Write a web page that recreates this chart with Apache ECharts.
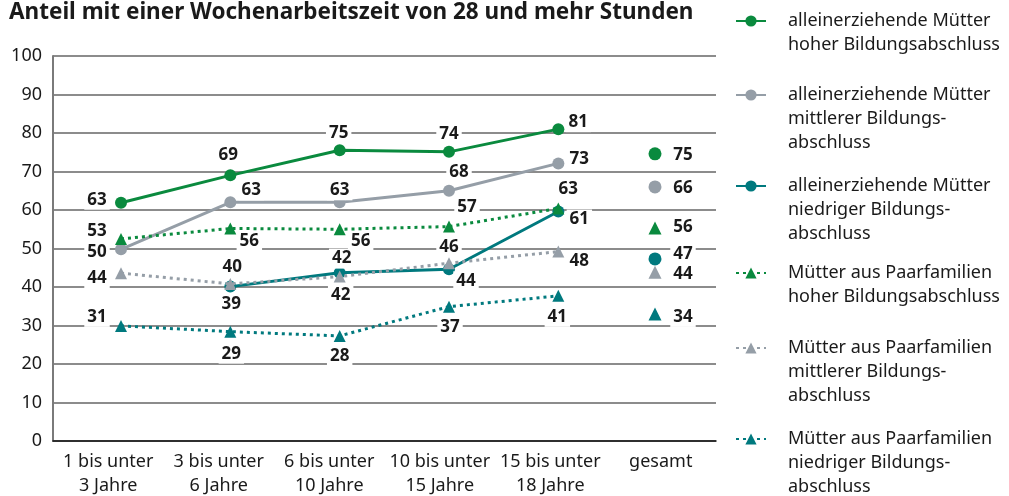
<!DOCTYPE html>
<html>
<head>
<meta charset="utf-8">
<script src="https://cdn.jsdelivr.net/npm/echarts@6/dist/echarts.min.js"></script>
<style>
  html, body { margin: 0; padding: 0; background: #fff; }
  #chart { width: 1009px; height: 496px; }
</style>
</head>
<body>
<div id="chart"></div>
<script>
const titleText = 'Anteil mit einer Wochenarbeitszeit von 28 und mehr Stunden';
const categories = ['1 bis unter\n3 Jahre', '3 bis unter\n6 Jahre', '6 bis unter\n10 Jahre', '10 bis unter\n15 Jahre', '15 bis unter\n18 Jahre', 'gesamt'];
const seriesNames = [
  'alleinerziehende Mütter\nhoher Bildungsabschluss',
  'alleinerziehende Mütter\nmittlerer Bildungs-\nabschluss',
  'alleinerziehende Mütter\nniedriger Bildungs-\nabschluss',
  'Mütter aus Paarfamilien\nhoher Bildungsabschluss',
  'Mütter aus Paarfamilien\nmittlerer Bildungs-\nabschluss',
  'Mütter aus Paarfamilien\nniedriger Bildungs-\nabschluss'
];

// where the marks sit in the picture (age groups)
const singleHigh = [61.9, 69.0, 75.5, 75.1, 81.0];
const singleMid = [49.8, 62.0, 62.0, 65.0, 72.1];
const singleLow = [null, 40.1, 43.7, 44.6, 59.6];
const pairHigh = [52.5, 55.2, 55.0, 55.7, 60.4];
const pairMid = [43.6, 40.8, 42.7, 46.2, 49.2];
const pairLow = [29.9, 28.4, 27.3, 34.9, 37.7];
// the printed numbers
const singleHighText = [63, 69, 75, 74, 81];
const singleMidText = [50, 63, 63, 68, 73];
const singleLowText = [null, 39, 42, 44, 61];
const pairHighText = [53, 56, 56, 57, 63];
const pairMidText = [44, 40, 42, 46, 48];
const pairLowText = [31, 29, 28, 37, 41];
// gesamt, same series order as above
const totalValues = [74.6, 66.0, 47.3, 55.3, 43.8, 33.0];
const totalText = [75, 66, 47, 56, 44, 34];

const green = '#0a8a3e';
const grey = '#959ea7';
const teal = '#00797e';
const font = 'Noto Sans';
const totalPos = 4.884; // gesamt markers sit a bit left of the band centre

// label offsets (px) from each marker
const offsets = [
  [[-24, -3], [-2, -20], [-1, -17], [0, -18], [20, -7]],
  [[-24, 3], [21, -12], [0, -12], [10, -19], [21, -4]],
  [null, [1, 18], [1, 22], [17, 12], [21, 8]],
  [[-24, -8], [19, 13], [21, 12], [18, -19], [10, -19]],
  [[-24, 5], [2, -17], [2, -18], [0, -16], [21, 10]],
  [[-24, -9], [1, 22], [0, 20], [1, 21], [-1, 21]]
];
const totalOffsets = [[28, 1], [28, 1], [28, -5], [28, -1], [28, 2], [28, 3]];
const legendIconY = [21, 95, 186, 273, 348, 439];

const labelStyle = {
  show: true,
  position: 'inside',
  align: 'center',
  verticalAlign: 'middle',
  color: '#1a1a1a',
  fontFamily: font,
  fontSize: 17,
  fontWeight: 'bold',
  backgroundColor: '#fff',
  padding: [0, 3],
  lineHeight: 20
};

const groups = [
  { values: singleHigh, text: singleHighText, color: green, symbol: 'circle', dotted: false },
  { values: singleMid, text: singleMidText, color: grey, symbol: 'circle', dotted: false },
  { values: singleLow, text: singleLowText, color: teal, symbol: 'circle', dotted: false },
  { values: pairHigh, text: pairHighText, color: green, symbol: 'triangle', dotted: true },
  { values: pairMid, text: pairMidText, color: grey, symbol: 'triangle', dotted: true },
  { values: pairLow, text: pairLowText, color: teal, symbol: 'triangle', dotted: true }
];

const series = [];
groups.forEach((g, i) => {
  const data = [];
  g.values.forEach((v, j) => {
    if (v == null) return;
    data.push({
      value: [j, v],
      label: Object.assign({}, labelStyle, { offset: offsets[i][j], formatter: String(g.text[j]) })
    });
  });
  series.push({
    name: seriesNames[i],
    type: 'line',
    xAxisIndex: 1,
    data: data,
    symbol: g.symbol,
    symbolSize: 12,
    showAllSymbol: true,
    color: g.color,
    itemStyle: { color: g.color, opacity: 1 },
    lineStyle: { color: g.color, width: 3, type: g.dotted ? [3, 4] : 'solid' },
    emphasis: { disabled: true },
    z: g.dotted ? 3 : 2
  });
});

groups.forEach((g, i) => {
  series.push({
    name: 'gesamt ' + i,
    type: 'scatter',
    xAxisIndex: 1,
    symbol: g.symbol,
    symbolSize: 13,
    itemStyle: { color: g.color, opacity: 1 },
    data: [{
      value: [totalPos, totalValues[i]],
      label: Object.assign({}, labelStyle, { offset: totalOffsets[i], formatter: String(totalText[i]) })
    }],
    emphasis: { disabled: true },
    z: 4
  });
});

// one legend per entry so the marker lines up with the first text line
const legends = seriesNames.map((name, i) => {
  const lines = name.split('\n').length;
  return {
    data: [name],
    orient: 'vertical',
    left: 735,
    top: legendIconY[i] - 12 * (2 * lines - 1),
    padding: 0,
    itemWidth: 30,
    itemHeight: 14,
    selectedMode: false,
    formatter: (n) => '\n'.repeat(lines - 1) + n,
    textStyle: {
      fontFamily: font,
      fontSize: 18,
      lineHeight: 24,
      color: '#1a1a1a',
      padding: [0, 0, 0, 17]
    }
  };
});

const chart = echarts.init(document.getElementById('chart'));
chart.setOption({
  animation: false,
  backgroundColor: '#fff',
  title: {
    text: titleText,
    left: 9,
    top: 1,
    padding: [0, 0, 0, 0],
    textStyle: { fontFamily: font, fontSize: 22.5, fontWeight: 'bold', color: '#1a1a1a', lineHeight: 24 }
  },
  legend: legends,
  grid: { left: 53, right: 293, top: 56, bottom: 55, outerBoundsMode: 'none' },
  xAxis: [
    {
      type: 'category',
      data: categories,
      boundaryGap: true,
      axisTick: { show: false },
      axisLine: { lineStyle: { color: '#111', width: 1.5 } },
      axisLabel: { interval: 0, fontFamily: font, fontSize: 18, lineHeight: 24, color: '#1a1a1a', margin: 9 },
      splitLine: { show: false }
    },
    {
      type: 'value',
      min: -0.622,
      max: 5.442,
      show: false
    }
  ],
  yAxis: {
    type: 'value',
    min: 0,
    max: 100,
    interval: 10,
    axisLine: { show: true, onZero: false, lineStyle: { color: '#7a7a7a', width: 2 } },
    axisTick: { show: false },
    axisLabel: { fontFamily: font, fontSize: 18, color: '#1a1a1a', margin: 11 },
    splitLine: { lineStyle: { color: '#666', width: 1.5 } }
  },
  series: series
});
</script>
</body>
</html>
